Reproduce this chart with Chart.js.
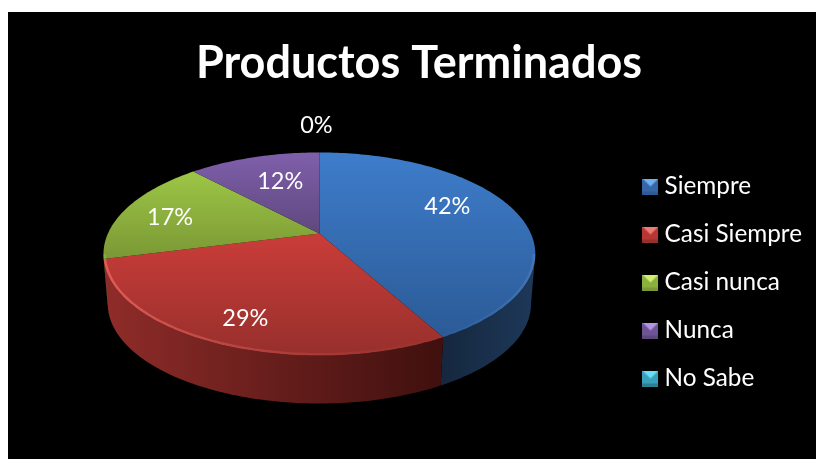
<!DOCTYPE html>
<html lang="es">
<head>
<meta charset="utf-8">
<title>Productos Terminados</title>
<style>
  html, body { margin: 0; padding: 0; background: #fff; overflow: hidden; }
  canvas { display: block; }
</style>
<script src="https://cdn.jsdelivr.net/npm/chart.js@4"></script>
</head>
<body>
<canvas id="pie" width="816" height="459"></canvas>
<script>
const chartTitle = 'Productos Terminados';
const categories = ['Siempre', 'Casi Siempre', 'Casi nunca', 'Nunca', 'No Sabe'];
const percentValues = [42, 29, 17, 12, 0];

const sliceColors = ['#3566a8', '#b83634', '#8cb03f', '#6e5396', '#3a9fb8'];
const faceLight = ['#3e7dcb', '#ca3d39', '#9dc646', '#7f5fab', '#46b8d4'];
const faceDark = ['#2b5a96', '#972f2c', '#7a9835', '#5f487e', '#2c7f94'];
const wallNear = ['#15273e', '#8f2c29', '#6a8430', '#4a3863', '#1f5a68'];
const wallFar = ['#1e3859', '#3f100e', '#5a7028', '#3a2c50', '#1a4c58'];
const bevelFrom = ['rgba(90,140,205,0.03)', 'rgba(240,105,98,0.75)', 'rgba(170,210,90,0.3)', 'rgba(150,120,190,0.3)', 'rgba(90,200,225,0.3)'];
const bevelTo = ['rgba(105,155,215,0.3)', 'rgba(190,70,65,0.03)', 'rgba(170,210,90,0.3)', 'rgba(150,120,190,0.3)', 'rgba(90,200,225,0.3)'];

const FONT = 'Lato, Carlito, Calibri, sans-serif';
const PIE_RADIUS = 216;

// Tilted-disc projection, all lengths relative to the outer radius.
const TILT = { persp: -0.202, width: 0.979, height: 0.451, side: -6, lift: -44, depth: 50.4, floor: 0.98 };
// First and last rim angle of the front wall (radians, canvas convention).
const WALL_START = Math.asin(0.202);
const WALL_END = Math.PI - WALL_START;

function project(arc, angle, r = 1, lowered = false) {
  const R = arc.outerRadius;
  const u = r * Math.cos(angle);
  const v = r * Math.sin(angle);
  const w = 1 + TILT.persp * v;
  const s = lowered ? TILT.floor : 1;
  return {
    x: arc.x + TILT.side + s * R * TILT.width * u / w,
    y: arc.y + TILT.lift + (lowered ? TILT.depth : 0) + s * R * TILT.height * v / w
  };
}

function rimPoints(arc, a0, a1, lowered) {
  const pts = [];
  const steps = Math.max(2, Math.ceil(Math.abs(a1 - a0) / 0.02));
  for (let i = 0; i <= steps; i++) {
    pts.push(project(arc, a0 + (a1 - a0) * i / steps, 1, lowered));
  }
  return pts;
}

function tracePath(ctx, pts) {
  ctx.beginPath();
  pts.forEach((p, i) => (i ? ctx.lineTo(p.x, p.y) : ctx.moveTo(p.x, p.y)));
}

function facePoints(arc) {
  return [project(arc, 0, 0)].concat(rimPoints(arc, arc.startAngle, arc.endAngle, false));
}

function drawWall(ctx, arc, i) {
  const a0 = Math.max(arc.startAngle, WALL_START);
  const a1 = Math.min(arc.endAngle, WALL_END);
  if (a1 <= a0) return;
  const top = rimPoints(arc, a0, a1, false);
  const bottom = rimPoints(arc, a1, a0, true);
  const all = top.concat(bottom);
  const xs = all.map(p => p.x);
  const grad = ctx.createLinearGradient(Math.min(...xs), 0, Math.max(...xs), 0);
  grad.addColorStop(0, wallNear[i]);
  grad.addColorStop(1, wallFar[i]);
  tracePath(ctx, all);
  ctx.closePath();
  ctx.fillStyle = grad;
  ctx.fill();
}

function drawFace(ctx, arc, i) {
  const all = facePoints(arc);
  const ys = all.map(p => p.y);
  const grad = ctx.createLinearGradient(0, Math.min(...ys), 0, Math.max(...ys));
  grad.addColorStop(0, faceLight[i]);
  grad.addColorStop(1, faceDark[i]);
  tracePath(ctx, all);
  ctx.closePath();
  ctx.fillStyle = grad;
  ctx.fill();
}

// Soft highlight along the front edge, kept inside its own slice.
function drawBevel(ctx, arc, i) {
  const a0 = Math.max(arc.startAngle, WALL_START);
  const a1 = Math.min(arc.endAngle, WALL_END);
  if (a1 <= a0) return;
  const pts = rimPoints(arc, a0, a1, false);
  const xs = pts.map(p => p.x);
  const grad = ctx.createLinearGradient(Math.max(...xs), 0, Math.min(...xs), 0);
  grad.addColorStop(0, bevelTo[i]);
  grad.addColorStop(1, bevelFrom[i]);
  ctx.save();
  tracePath(ctx, facePoints(arc));
  ctx.closePath();
  ctx.clip();
  tracePath(ctx, pts);
  ctx.strokeStyle = grad;
  ctx.lineWidth = 5;
  ctx.stroke();
  ctx.restore();
}

// Paints the tilted disc from the arcs the pie controller has laid out.
const tiltedPie = {
  id: 'tiltedPie',
  beforeDatasetDraw(chart, args) {
    const ctx = chart.ctx;
    const arcs = args.meta.data;
    const visible = arcs.map((arc, i) => ({ arc, i })).filter(d => d.arc.endAngle > d.arc.startAngle);
    ctx.save();
    visible.forEach(d => drawWall(ctx, d.arc, d.i));
    visible.forEach(d => drawFace(ctx, d.arc, d.i));
    visible.forEach(d => drawBevel(ctx, d.arc, d.i));
    ctx.restore();
    return false;
  },
  afterDatasetsDraw(chart, args, opts) {
    const ctx = chart.ctx;
    const meta = chart.getDatasetMeta(0);
    ctx.save();
    ctx.fillStyle = '#fff';
    ctx.font = opts.size + 'px ' + FONT;
    ctx.textAlign = 'center';
    ctx.textBaseline = 'middle';
    meta.data.forEach((arc, i) => {
      const mid = (arc.startAngle + arc.endAngle) / 2;
      const p = project(arc, mid, opts.radial);
      const [dx, dy] = opts.nudges[i];
      ctx.fillText(percentValues[i] + '%', p.x + dx, p.y + dy);
    });
    ctx.restore();
  }
};

// Black panel behind the chart, and the final placement of the legend column.
const panel = {
  id: 'panel',
  afterLayout(chart, args, opts) {
    chart.legend.left += opts.legendDx;
    chart.legend.right += opts.legendDx;
    chart.legend.top += opts.legendDy;
    chart.legend.bottom += opts.legendDy;
  },
  beforeDraw(chart) {
    const ctx = chart.ctx;
    ctx.save();
    ctx.fillStyle = '#000';
    ctx.fillRect(8, 12, chart.width - 8, chart.height - 12);
    ctx.restore();
  }
};

// Small bevelled square used as the legend marker.
function bevelSwatch(light, base, dark) {
  const size = 16;
  const c = document.createElement('canvas');
  c.width = size;
  c.height = size;
  const g = c.getContext('2d');
  g.fillStyle = base;
  g.fillRect(0, 0, size, size);
  g.fillStyle = light;
  g.beginPath(); g.moveTo(0, 0); g.lineTo(size, 0); g.lineTo(size / 2, size * 0.5); g.closePath(); g.fill();
  g.fillStyle = dark;
  g.fillRect(0, size - 3, size, 3);
  return c;
}

const swatchLight = ['#6fb0f0', '#f07a74', '#cdf070', '#b394e0', '#66e0f8'];
const swatches = categories.map((_, i) => bevelSwatch(swatchLight[i], sliceColors[i], faceDark[i]));

new Chart(document.getElementById('pie'), {
  type: 'pie',
  data: {
    labels: categories,
    datasets: [{ data: percentValues, backgroundColor: sliceColors, borderWidth: 0 }]
  },
  plugins: [panel, tiltedPie],
  options: {
    responsive: false,
    animation: false,
    radius: PIE_RADIUS,
    layout: { padding: { left: 22 } },
    plugins: {
      tooltip: { enabled: false },
      title: {
        display: true,
        text: chartTitle,
        color: '#fff',
        font: { family: FONT, size: 45, weight: 'bold', lineHeight: 1.2 },
        padding: { top: 36, bottom: 6 }
      },
      legend: {
        position: 'right',
        labels: {
          color: '#fff',
          font: { family: FONT, size: 24.3 },
          padding: 23.7,
          usePointStyle: true,
          boxWidth: 16,
          boxHeight: 16,
          pointStyleWidth: 4,
          generateLabels: chart => chart.data.labels.map((text, i) => ({
            text,
            index: i,
            fontColor: '#fff',
            pointStyle: swatches[i],
            hidden: false
          }))
        }
      },
      panel: { legendDx: -4, legendDy: 53 },
      tiltedPie: {
        size: 23.5,
        radial: 0.65,
        nudges: [[-1, -12], [-12, 19], [-22, 1], [6, 0], [-3, -52]]
      }
    }
  }
});
</script>
</body>
</html>
